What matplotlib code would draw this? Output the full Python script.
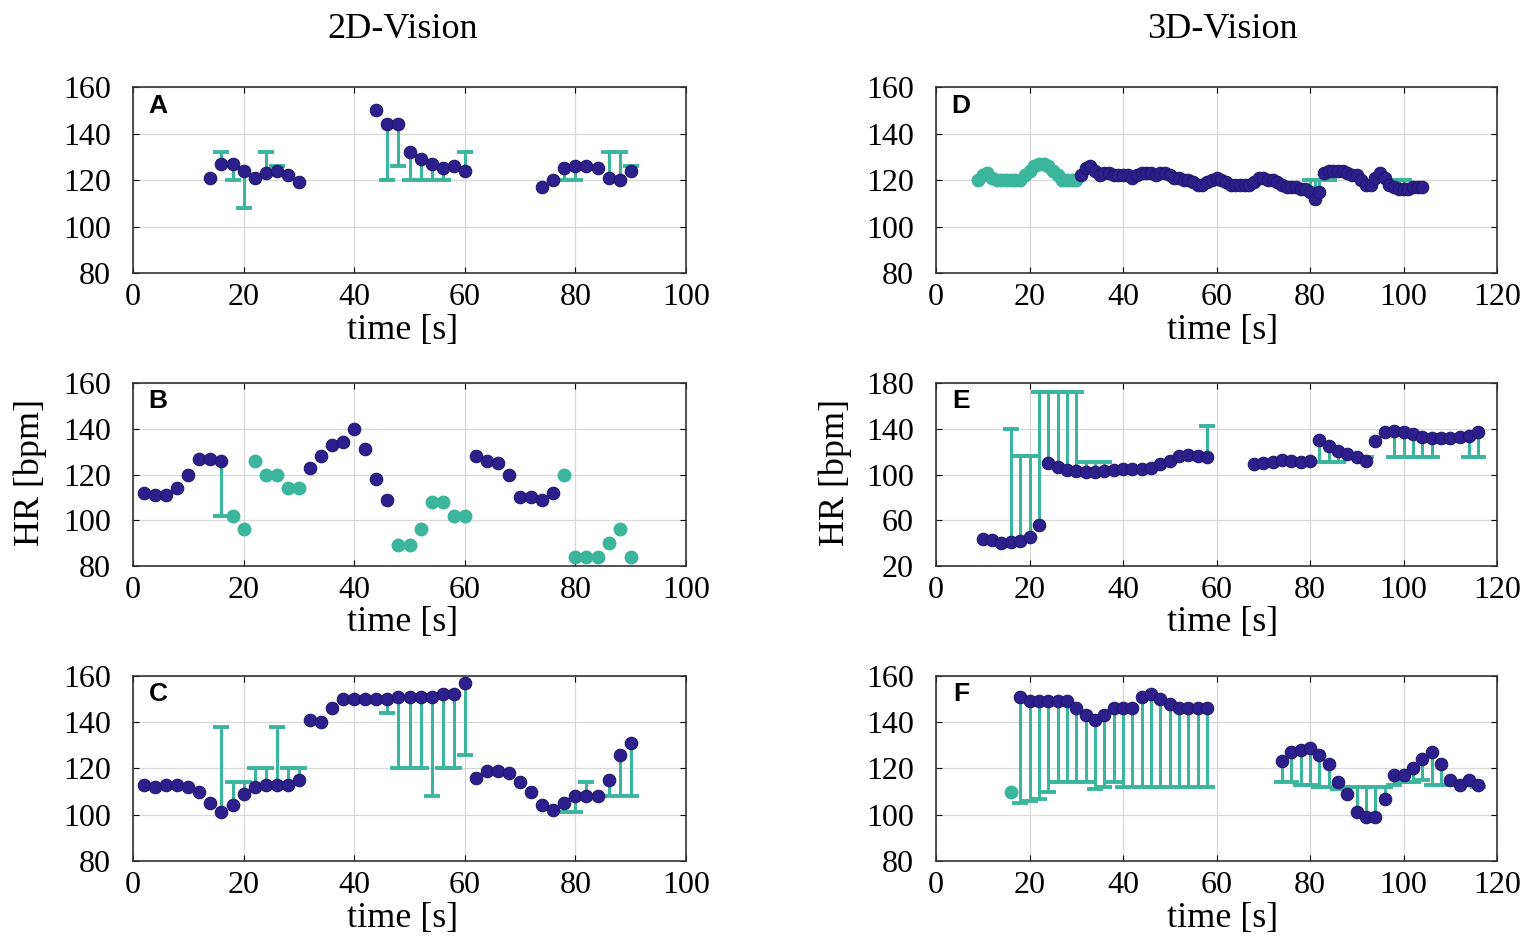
import numpy as np
import matplotlib.pyplot as plt

plt.rcParams['font.family'] = ['Liberation Serif', 'DejaVu Serif']

BLUE = '#2d1f8c'
BLUE_EDGE = '#22186f'
TEAL = '#3bb59c'

# ---- 2D-Vision ----
# A
tA_blue = [14, 16, 18, 20, 22, 24, 26, 28, 30,
           44, 46, 48, 50, 52, 54, 56, 58, 60,
           74, 76, 78, 80, 82, 84, 86, 88, 90]
hrA_blue = [121, 127, 127, 124, 121, 123, 124, 122, 119,
            150, 144, 144, 132, 129, 127, 125, 126, 124,
            117, 120, 125, 126, 126, 125, 121, 120, 124]
tA_teal = [16, 18, 20, 24, 26, 46, 48, 50, 52, 54, 56, 60, 78, 80, 86, 88, 90]
hrA_teal = [132, 120, 108, 132, 126, 120, 126, 120, 120, 120, 120, 132, 120, 120, 132, 132, 126]

# B
tB_blue = [2, 4, 6, 8, 10, 12, 14, 16,
           32, 34, 36, 38, 40, 42, 44, 46,
           62, 64, 66, 68, 70, 72, 74, 76]
hrB_blue = [112, 111, 111, 114, 120, 127, 127, 126,
            123, 128, 133, 134, 140, 131, 118, 109,
            128, 126, 125, 120, 110, 110, 109, 112]
tB_teal = [16, 18, 20, 22, 24, 26, 28, 30,
           48, 50, 52, 54, 56, 58, 60,
           78, 80, 82, 84, 86, 88, 90]
hrB_teal = [102, 102, 96, 126, 120, 120, 114, 114,
            89, 89, 96, 108, 108, 102, 102,
            120, 84, 84, 84, 90, 96, 84]

# C
tC_blue = np.arange(2, 92, 2)
hrC_blue = [113, 112, 113, 113, 112, 110, 105, 101, 104, 109, 112, 113, 113, 113, 115,
            141, 140, 146, 150, 150, 150, 150, 150, 151, 151, 151, 151, 152, 152, 157,
            116, 119, 119, 118, 114, 110, 104, 102, 105, 108, 108, 108, 115, 126, 131]
tC_teal = [16, 18, 20, 22, 24, 26, 28, 30,
           46, 48, 50, 52, 54, 56, 58, 60,
           78, 80, 82, 84, 86, 88, 90]
hrC_teal = [138, 114, 114, 120, 120, 138, 120, 120,
            144, 120, 120, 120, 108, 120, 120, 126,
            101, 101, 114, 108, 108, 108, 108]

# ---- 3D-Vision ----
# D
tD_blue = np.arange(31, 105)
hrD_blue = [122, 125, 126, 124, 122, 123, 123, 122, 122, 122,
            122, 121, 122, 123, 123, 123, 122, 123, 123, 122,
            121, 121, 120, 120, 119, 118, 118, 119, 120, 121,
            120, 119, 118, 118, 118, 118, 118, 119, 121, 121,
            120, 120, 119, 118, 117, 117, 117, 116, 116, 115,
            112, 115, 123, 124, 124, 124, 124, 123, 122, 122,
            120, 118, 118, 121, 123, 121, 118, 117, 116, 116,
            116, 117, 117, 117]
tD_teal = list(range(9, 31)) + [80, 81, 82, 83, 84, 97, 98, 99, 100]
hrD_teal = [120, 122, 123, 121, 120, 120, 120, 120, 120, 120, 122,
            124, 126, 127, 127, 126, 124, 122, 120, 120, 120, 120,
            120, 120, 120, 120, 120, 120, 120, 120, 120]

# E
tE_blue = np.concatenate([np.arange(10, 60, 2), np.arange(68, 118, 2)])
hrE_blue = [44, 43, 40, 41, 42, 45, 56, 110, 107, 104, 103, 102, 102,
            103, 104, 105, 105, 105, 106, 109, 112, 116, 117, 116, 115,
            109, 110, 111, 113, 112, 111, 112, 130, 125, 121, 118, 115, 112,
            129, 137, 138, 137, 135, 133, 132, 132, 132, 133, 134, 137]
tE_teal = [16, 18, 20, 22, 24, 26, 28, 30, 32, 34, 36, 58,
           80, 82, 84, 86, 90, 92, 98, 100, 102, 104, 106, 114, 116]
hrE_teal = [140, 116, 116, 172, 172, 172, 172, 172, 111, 111, 111, 142,
            111, 111, 111, 111, 115, 115, 115, 115, 115, 115, 115, 115, 115]

# F
tF_blue = np.concatenate([np.arange(18, 60, 2), np.arange(74, 118, 2)])
hrF_blue = [151, 149, 149, 149, 149, 149, 146, 143, 141, 143, 146,
            146, 146, 151, 152, 150, 148, 146, 146, 146, 146,
            123, 127, 128, 129, 126, 122, 114, 109, 101, 99, 99,
            107, 117, 117, 120, 124, 127, 122, 115, 113, 115, 113]
tF_teal = np.concatenate([np.arange(16, 60, 2), np.arange(74, 118, 2)])
hrF_teal = [110, 105, 106, 107, 110, 114, 114, 114, 114, 111, 112,
            114, 112, 112, 112, 112, 112, 112, 112, 112, 112, 112,
            114, 114, 113, 113, 112, 112, 111, 112, 112, 112, 112,
            112, 113, 114, 114, 115, 113, 113, 113, 113, 113, 112]

fig = plt.figure(figsize=(15.35, 9.46), dpi=100)

left, lw_ = 133 / 1535, 553 / 1535
right, rw_ = 936 / 1535, 561 / 1535
rows = [(0.7114, 0.1966), (0.4017, 0.1934), (0.0899, 0.1956)]


def panel(ax, t_blue, hr_blue, t_teal, hr_teal):
    blue = dict(zip([int(t) for t in t_blue], hr_blue))
    for t, h in zip(t_teal, hr_teal):
        t = int(t)
        if t in blue:
            ax.vlines(t, blue[t], h, color=TEAL, lw=2.2, zorder=2)
            ax.plot(t, h, '_', ms=12, mew=2.8, color=TEAL, zorder=2)
        else:
            ax.plot(t, h, 'o', ms=9, color=TEAL, mec=TEAL, zorder=3)
    ax.plot(t_blue, hr_blue, 'o', ms=9, color=BLUE, mec=BLUE_EDGE, mew=0.8, ls='none', zorder=4)


def style(ax, xmax, yticks, letter):
    ax.set_xlim(0, xmax)
    ax.set_ylim(yticks[0], yticks[-1])
    ax.set_xticks(np.arange(0, xmax + 1, 20))
    ax.set_yticks(yticks)
    ax.grid(True, color='#d8d8d8', lw=0.9)
    ax.set_axisbelow(True)
    ax.tick_params(direction='in', top=True, right=True, length=4, width=0.8, labelsize=23)
    ax.tick_params(axis='y', pad=16)
    ax.tick_params(axis='x', pad=7)
    for s in ax.spines.values():
        s.set_linewidth(1.2)
        s.set_color('#333333')
    ax.text(0.045, 0.9, letter, transform=ax.transAxes, ha='center', va='center',
            fontsize=19, fontweight='bold', family='Liberation Sans')


panels = [
    (left, lw_, 0, 100, [80, 100, 120, 140, 160], 'A', tA_blue, hrA_blue, tA_teal, hrA_teal),
    (left, lw_, 1, 100, [80, 100, 120, 140, 160], 'B', tB_blue, hrB_blue, tB_teal, hrB_teal),
    (left, lw_, 2, 100, [80, 100, 120, 140, 160], 'C', tC_blue, hrC_blue, tC_teal, hrC_teal),
    (right, rw_, 0, 120, [80, 100, 120, 140, 160], 'D', tD_blue, hrD_blue, tD_teal, hrD_teal),
    (right, rw_, 1, 120, [20, 60, 100, 140, 180], 'E', tE_blue, hrE_blue, tE_teal, hrE_teal),
    (right, rw_, 2, 120, [80, 100, 120, 140, 160], 'F', tF_blue, hrF_blue, tF_teal, hrF_teal),
]

for x0, w, r, xmax, yt, letter, tb, hb, tt, ht in panels:
    b, h = rows[r]
    ax = fig.add_axes([x0, b, w, h])
    panel(ax, tb, hb, tt, ht)
    style(ax, xmax, yt, letter)
    xc = 0.488 if xmax == 100 else 0.51
    ax.text(xc, -0.31, 'time [s]', transform=ax.transAxes, ha='center', va='center', fontsize=26)

fig.text(403 / 1535, 1 - 29 / 946, '2D-Vision', ha='center', va='center', fontsize=26)
fig.text(1222 / 1535, 1 - 29 / 946, '3D-Vision', ha='center', va='center', fontsize=26)
fig.text(30 / 1535, 1 - 473 / 946, 'HR [bpm]', rotation=90, ha='center', va='center', fontsize=26)
fig.text(835 / 1535, 1 - 473 / 946, 'HR [bpm]', rotation=90, ha='center', va='center', fontsize=26)

fig.savefig('out.png', dpi=100)
